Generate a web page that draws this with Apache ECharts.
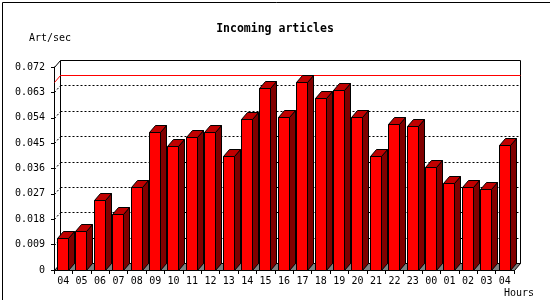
<!DOCTYPE html>
<html>
<head>
<meta charset="utf-8">
<script src="https://cdn.jsdelivr.net/npm/echarts@6/dist/echarts.min.js"></script>
<style>
  html, body { margin: 0; padding: 0; background: #fff; }
  #chart { width: 550px; height: 300px; }
</style>
</head>
<body>
<div id="chart"></div>
<script>
const hours = ['04','05','06','07','08','09','10','11','12','13','14','15','16','17','18','19','20','21','22','23','00','01','02','03','04'];
const artPerSec = [0.0112,0.0137,0.0250,0.0198,0.0294,0.0489,0.0439,0.0470,0.0489,0.0406,0.0537,0.0647,0.0544,0.0668,0.0611,0.0640,0.0544,0.0406,0.0519,0.0512,0.0364,0.0310,0.0294,0.0289,0.0445];
const yTicks = [0,0.009,0.018,0.027,0.036,0.045,0.054,0.063,0.072];
const titleText = 'Incoming articles';
const yName = 'Art/sec';
const xName = 'Hours';

const DX = 6, DY = 7;
const MONO = '"DejaVu Sans Mono", "Liberation Mono", monospace';
const maxVal = Math.max.apply(null, artPerSec);

function renderWall(params, api) {
  const cs = params.coordSys;
  const x0 = Math.round(cs.x) + 0.5, x1 = Math.round(cs.x + cs.width) + 0.5;
  const yTop = Math.round(api.coord([0, yTicks[yTicks.length - 1]])[1]) + 0.5;
  const yBot = Math.round(api.coord([0, 0])[1]) + 0.5;
  const children = [];
  children.push({type: 'polygon', shape: {points: [[x0 + DX, yTop - DY], [x1 + DX, yTop - DY], [x1 + DX, yBot - DY], [x0 + DX, yBot - DY]]},
    style: {fill: '#ffffff', stroke: '#000', lineWidth: 1}});
  children.push({type: 'polygon', shape: {points: [[x0, yBot], [x1, yBot], [x1 + DX, yBot - DY], [x0 + DX, yBot - DY]]},
    style: {fill: '#808080', stroke: '#000', lineWidth: 1}});
  for (let k = 1; k < yTicks.length - 1; k++) {
    const y = Math.round(api.coord([0, yTicks[k]])[1]) + 0.5;
    children.push({type: 'line', shape: {x1: x0 + DX, y1: y - DY, x2: x1 + DX, y2: y - DY},
      style: {stroke: '#000', lineWidth: 1, lineDash: [2, 2]}});
    children.push({type: 'line', shape: {x1: x0, y1: y, x2: x0 + DX, y2: y - DY},
      style: {stroke: '#000', lineWidth: 1, lineDash: [2, 2]}});
  }
  children.push({type: 'line', shape: {x1: x0, y1: yTop, x2: x0 + DX, y2: yTop - DY}, style: {stroke: '#000', lineWidth: 1}});
  const ym = Math.round(api.coord([0, maxVal])[1]) + 0.5;
  children.push({type: 'polyline', shape: {points: [[x0, ym], [x0 + DX, ym - DY], [x1 + DX, ym - DY]]},
    style: {fill: null, stroke: '#ff0000', lineWidth: 1}});
  return {type: 'group', children: children};
}

function renderBar(params, api) {
  const i = api.value(0), v = api.value(1);
  const top = api.coord([i, v]);
  const base = api.coord([i, 0]);
  const band = api.size([1, 0])[0];
  const w = Math.round(band * 0.6);
  const xa = Math.round(top[0] - band * 0.34) + 0.5;
  const xb = xa + w;
  const yT = Math.round(top[1]) + 0.5, yB = Math.round(base[1]) + 0.5;
  const st = {stroke: '#000', lineWidth: 1};
  return {type: 'group', children: [
    {type: 'polygon', shape: {points: [[xb, yT], [xb + DX, yT - DY], [xb + DX, yB - DY], [xb, yB]]},
      style: Object.assign({fill: '#800000'}, st)},
    {type: 'polygon', shape: {points: [[xa, yT], [xa + DX, yT - DY], [xb + DX, yT - DY], [xb, yT]]},
      style: Object.assign({fill: '#c00000'}, st)},
    {type: 'rect', shape: {x: xa, y: yT, width: w, height: yB - yT},
      style: Object.assign({fill: '#ff0000'}, st)}
  ]};
}

const chart = echarts.init(document.getElementById('chart'), null, {renderer: 'canvas'});
chart.setOption({
  animation: false,
  backgroundColor: '#fff',
  title: {
    text: titleText, left: 'center', top: 18,
    textStyle: {fontFamily: MONO, fontWeight: 'bold', fontSize: 11.5, color: '#000'}
  },
  grid: {left: 54, right: 36, top: 67, bottom: 30, containLabel: false},
  xAxis: {
    type: 'category', data: hours,
    axisLine: {lineStyle: {color: '#000', width: 1}},
    axisTick: {show: true, length: 4, lineStyle: {color: '#000'}},
    axisLabel: {fontFamily: MONO, fontSize: 10, color: '#000', margin: 6, interval: 0},
    splitLine: {show: false}
  },
  yAxis: {
    type: 'value', min: 0, max: yTicks[yTicks.length - 1], interval: yTicks[1] - yTicks[0],
    axisLine: {show: true, lineStyle: {color: '#000', width: 1}},
    axisTick: {show: true, length: 3, lineStyle: {color: '#000'}},
    axisLabel: {fontFamily: MONO, fontSize: 10, color: '#000', margin: 9,
      formatter: function (v) { return v === 0 ? '0' : v.toFixed(3); }},
    splitLine: {show: false}
  },
  graphic: [
    {type: 'rect', left: 0, top: 0, shape: {x: 0.5, y: 0.5, width: 549, height: 299}, style: {fill: null, stroke: '#000', lineWidth: 1}, z: 100},
    {type: 'text', left: 29, top: 33, style: {text: yName, fontFamily: MONO, fontSize: 10, fill: '#000'}},
    {type: 'text', right: 16, top: 288, style: {text: xName, fontFamily: MONO, fontSize: 10, fill: '#000'}}
  ],
  series: [
    {type: 'custom', name: 'wall', data: [[0, 0]], renderItem: renderWall, clip: false, z: 1, silent: true},
    {type: 'custom', name: 'bars', data: artPerSec.map(function (v, i) { return [i, v]; }),
      encode: {x: 0, y: 1}, renderItem: renderBar, clip: false, z: 3}
  ]
});
</script>
</body>
</html>
